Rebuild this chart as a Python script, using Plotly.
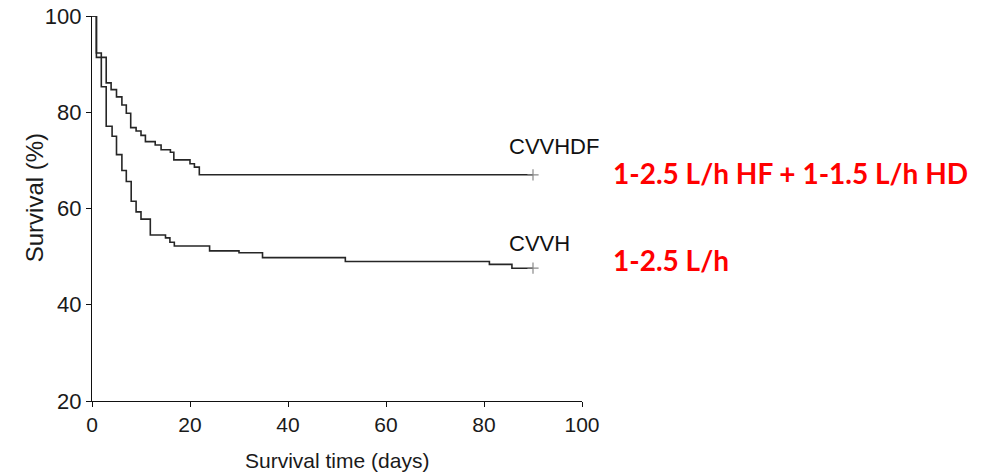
import plotly.graph_objects as go

# CVVHDF (upper curve)
cvvhdf_days = [0, 0.9, 2.9, 3.9, 5.0, 6.1, 7.0, 7.9, 9.0, 10.0, 10.9, 12.9, 14.1, 16.0, 16.7, 20.0, 20.9, 21.9, 90]
cvvhdf_surv = [100, 91.4, 86.1, 84.7, 83.2, 81.5, 79.8, 76.8, 76.1, 75.2, 73.9, 73.2, 72.2, 71.7, 70.1, 69.3, 68.6, 67.0, 67.0]

# CVVH (lower curve)
cvvh_days = [0, 0.9, 1.9, 2.9, 4.1, 5.0, 6.1, 7.0, 8.0, 9.0, 10.0, 11.9, 15.0, 15.9, 16.8, 24.0, 30.0, 34.8, 51.7, 81.1, 85.7, 90]
cvvh_surv = [100, 92.3, 85.3, 77.1, 75.0, 71.2, 67.9, 65.6, 61.5, 59.3, 57.8, 54.5, 53.9, 53.0, 52.2, 51.2, 50.8, 49.8, 49.0, 48.4, 47.6, 47.6]

x_ticks = [0, 20, 40, 60, 80, 100]
y_ticks = [20, 40, 60, 80, 100]

line_col = "#262626"
fig = go.Figure()
for d, s in [(cvvhdf_days, cvvhdf_surv), (cvvh_days, cvvh_surv)]:
    fig.add_trace(go.Scatter(x=d, y=s, mode="lines", line=dict(color=line_col, width=1.6, shape="hv"),
                             showlegend=False, hoverinfo="skip"))
    fig.add_trace(go.Scatter(x=[d[-1]], y=[s[-1]], mode="markers",
                             marker=dict(symbol="cross-thin", size=8, line=dict(color="#8a8a8a", width=1.2)),
                             showlegend=False, hoverinfo="skip", cliponaxis=False))

fam = "Liberation Sans, Arial, sans-serif"
font_x = dict(family=fam, size=21, color="#1a1a1a")
font_y = dict(family=fam, size=22, color="#1a1a1a")
font_lab = dict(family=fam, size=22, color="#111111")
font_red = dict(family="Lato, sans-serif", size=28, color="#ff0000")

fig.update_layout(
    width=990, height=472,
    margin=dict(l=92, r=408, t=16, b=71, autoexpand=False),
    paper_bgcolor="white", plot_bgcolor="white",
    xaxis=dict(range=[0, 100], tickvals=x_ticks, showgrid=False, zeroline=False, automargin=False,
               showline=True, linecolor="#111111", linewidth=1.3, ticks="outside", ticklen=5,
               tickcolor="#111111", tickfont=font_x, ticklabeloverflow="allow"),
    yaxis=dict(range=[20, 100], tickvals=y_ticks, showgrid=False, zeroline=False, automargin=False,
               showline=True, linecolor="#111111", linewidth=1.3, ticks="outside", ticklen=5,
               tickcolor="#111111", tickfont=font_y, ticklabeloverflow="allow"),
    annotations=[
        dict(text="Survival (%)", xref="paper", yref="paper", x=-0.118, y=0.527, textangle=-90,
             showarrow=False, font=dict(family=fam, size=24, color="#1a1a1a"),
             xanchor="center", yanchor="middle"),
        dict(text="Survival time (days)", xref="paper", yref="paper", x=0.499, y=-0.154,
             showarrow=False, font=dict(family=fam, size=21, color="#1a1a1a"),
             xanchor="center", yanchor="middle"),
        dict(text="CVVHDF", xref="paper", yref="paper", x=0.847, y=0.661, showarrow=False,
             font=font_lab, xanchor="left", yanchor="middle"),
        dict(text="CVVH", xref="paper", yref="paper", x=0.847, y=0.409, showarrow=False,
             font=font_lab, xanchor="left", yanchor="middle"),
        dict(text="<b>1-2.5 L/h HF + 1-1.5 L/h HD</b>", xref="paper", yref="paper", x=1.059, y=0.592,
             showarrow=False, font=font_red, xanchor="left", yanchor="middle"),
        dict(text="<b>1-2.5 L/h</b>", xref="paper", yref="paper", x=1.059, y=0.366,
             showarrow=False, font=font_red, xanchor="left", yanchor="middle"),
    ],
)

fig.write_html("out.html", config={"displayModeBar": False},
               post_script="document.body.style.margin='0px';")
